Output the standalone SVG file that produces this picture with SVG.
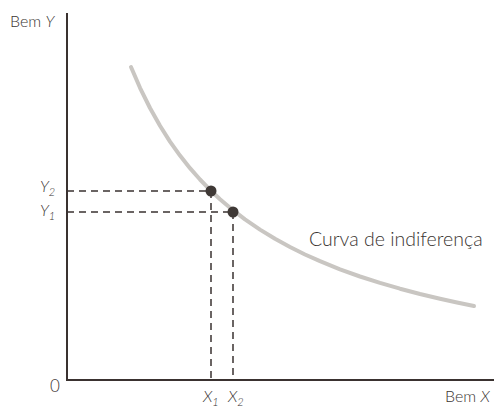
<svg xmlns="http://www.w3.org/2000/svg" width="494" height="410" viewBox="0 0 494 410">
<style>
text{font-family:Lato,"Liberation Sans",sans-serif;font-weight:300;fill:#3a3431}
.lbl{font-size:16px}
.it{font-style:italic}
.sub{font-size:11px}
.axis{stroke:#3a3230;stroke-width:2;fill:none}
.dash{stroke:#3a3230;stroke-width:1.5;stroke-dasharray:7,5;fill:none}
.curve{stroke:#c9c6c2;stroke-width:4;fill:none;stroke-linecap:round;stroke-linejoin:round}
.dot{fill:#3f3936}
</style>
<rect width="494" height="410" fill="#ffffff"/>
<g id="connectors">
<path class="dash" d="M67 191H211"/>
<path class="dash" d="M67 212H233"/>
<path class="dash" d="M211 191V380"/>
<path class="dash" d="M233 212V380"/>
</g>
<g id="axes">
<path class="axis" d="M67 13V380H494"/>
</g>
<g id="curve">
<path class="curve" d="M131 67 L140 87.8 L150 108 L160 125.8 L170 141.6 L180 155.6 L190 168.2 L200 179.5 L211 190.8 L220 199.2 L233 210.2 L245 219.4 L260 229.6 L275 238.8 L290 247 L305 254.5 L320 261.2 L340 269.3 L360 276.5 L380 282.9 L400 288.7 L420 294 L440 298.8 L457 302.5 L474 306"/>
</g>
<g id="point1"><circle class="dot" cx="211" cy="191" r="5.5"/></g>
<g id="point2"><circle class="dot" cx="233" cy="212" r="5.5"/></g>
<g id="labels">
<text class="lbl" x="10" y="27">Bem <tspan class="it">Y</tspan></text>
<text class="lbl it" x="40" y="192">Y<tspan class="sub" dy="4">2</tspan></text>
<text class="lbl it" x="40" y="216">Y<tspan class="sub" dy="4">1</tspan></text>
<text x="50" y="392" style="font-size:17px">0</text>
<text class="lbl it" x="203" y="402">X<tspan class="sub" dy="4">1</tspan></text>
<text class="lbl it" x="228" y="402">X<tspan class="sub" dy="4">2</tspan></text>
<text class="lbl" x="445" y="402">Bem <tspan class="it">X</tspan></text>
<text x="309" y="246" style="font-size:19.5px">Curva de indiferença</text>
</g>
</svg>
